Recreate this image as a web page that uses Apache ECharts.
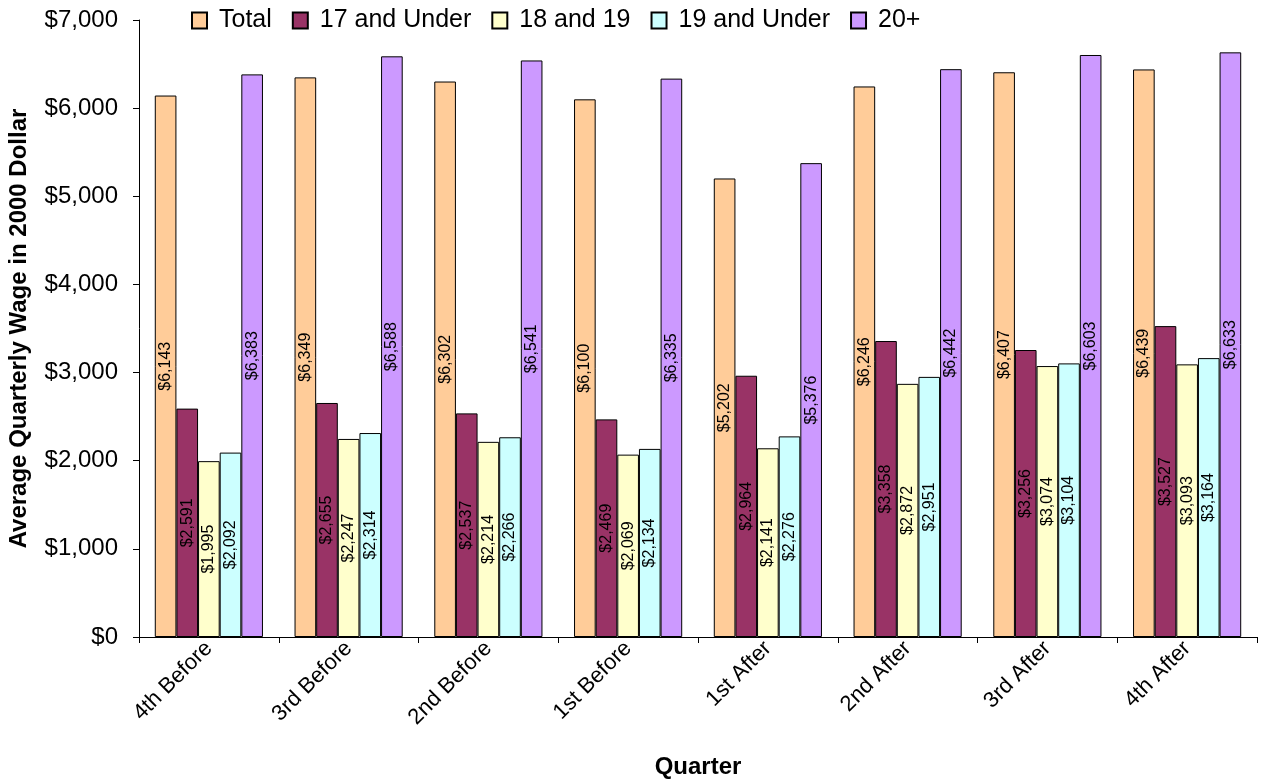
<!DOCTYPE html>
<html>
<head>
<meta charset="utf-8">
<script src="https://cdn.jsdelivr.net/npm/echarts@6/dist/echarts.min.js"></script>
<style>
  html, body { margin: 0; padding: 0; background: #fff; }
  #chart { width: 1269px; height: 780px; }
</style>
</head>
<body>
<div id="chart"></div>
<script>
// Quarters relative to the event
const quarters = ['4th Before', '3rd Before', '2nd Before', '1st Before', '1st After', '2nd After', '3rd After', '4th After'];

// Average quarterly wage (2000 dollars) by age group
const total       = [6143, 6349, 6302, 6100, 5202, 6246, 6407, 6439];
const under17     = [2591, 2655, 2537, 2469, 2964, 3358, 3256, 3527];
const age18to19   = [1995, 2247, 2214, 2069, 2141, 2872, 3074, 3093];
const under19     = [2092, 2314, 2266, 2134, 2276, 2951, 3104, 3164];
const age20plus   = [6383, 6588, 6541, 6335, 5376, 6442, 6603, 6633];

const seriesNames  = ['Total', '17 and Under', '18 and 19', '19 and Under', '20+'];
const seriesData   = [total, under17, age18to19, under19, age20plus];
const seriesColors = ['#FFCC99', '#993366', '#FFFFCC', '#CCFFFF', '#CC99FF'];

const FONT = '"Liberation Sans", Arial, sans-serif';
const money = v => '$' + Math.round(v).toLocaleString('en-US');

const chart = echarts.init(document.getElementById('chart'));
chart.setOption({
  animation: false,
  textStyle: { fontFamily: FONT, color: '#000' },
  legend: {
    top: 3,
    left: 186,
    itemWidth: 15,
    itemHeight: 16,
    itemGap: 20,
    icon: 'rect',
    textStyle: { fontFamily: FONT, fontSize: 25, color: '#000', padding: [0, 0, 0, 7] },
    data: seriesNames
  },
  grid: { left: 139, top: 20, right: 12, bottom: 143, outerBoundsMode: 'none', containLabel: false },
  xAxis: {
    type: 'category',
    data: quarters,
    name: 'Quarter',
    nameLocation: 'middle',
    nameGap: 118,
    nameTextStyle: { fontFamily: FONT, fontSize: 24, fontWeight: 'bold', color: '#000' },
    axisLine: { lineStyle: { color: '#000', width: 1 } },
    axisTick: { show: true, alignWithLabel: false, length: 6, lineStyle: { color: '#000' } },
    axisLabel: { rotate: 45, fontFamily: FONT, fontSize: 22, color: '#000', margin: 8 }
  },
  yAxis: {
    type: 'value',
    min: 0,
    max: 7000,
    interval: 1000,
    name: 'Average Quarterly Wage in 2000 Dollar',
    nameLocation: 'middle',
    nameGap: 108,
    nameRotate: 90,
    nameTextStyle: { fontFamily: FONT, fontSize: 24, fontWeight: 'bold', color: '#000' },
    axisLine: { show: true, lineStyle: { color: '#000', width: 1 } },
    axisTick: { show: true, length: 6, lineStyle: { color: '#000' } },
    splitLine: { show: false },
    axisLabel: { fontFamily: FONT, fontSize: 24, color: '#000', margin: 21, formatter: money }
  },
  series: seriesNames.map((name, i) => ({
    name,
    type: 'bar',
    data: seriesData[i],
    barGap: '0%',
    barCategoryGap: '22.6%',
    itemStyle: { color: seriesColors[i], borderColor: '#000', borderWidth: 1 },
    label: {
      show: true,
      position: 'inside',
      rotate: 90,
      fontFamily: FONT,
      fontSize: 16,
      color: '#000',
      formatter: p => money(p.value)
    }
  }))
});
</script>
</body>
</html>
